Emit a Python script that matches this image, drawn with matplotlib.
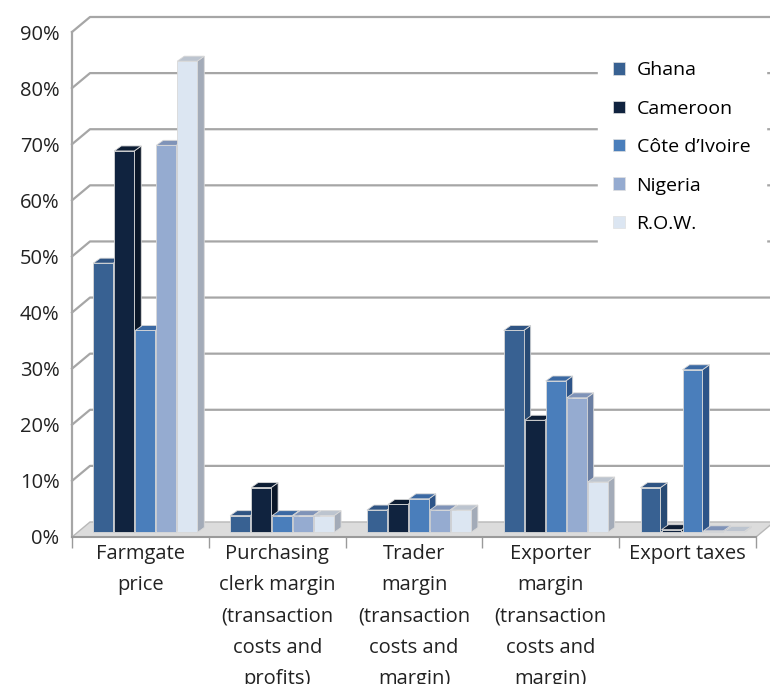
import matplotlib.pyplot as plt
import numpy as np
from matplotlib.patches import Polygon, Patch

plt.rcParams['font.family'] = ['Open Sans', 'DejaVu Sans']

categories = ['Farmgate\nprice',
              'Purchasing\nclerk margin\n(transaction\ncosts and\nprofits)',
              'Trader\nmargin\n(transaction\ncosts and\nmargin)',
              'Exporter\nmargin\n(transaction\ncosts and\nmargin)',
              'Export taxes']
series = ['Ghana', 'Cameroon', "Côte d’Ivoire", 'Nigeria', 'R.O.W.']
ghana = [48, 3, 4, 36, 8]
cameroon = [68, 8, 5, 20, 0.5]
cote_divoire = [36, 3, 6, 27, 29]
nigeria = [69, 3, 4, 24, 0.3]
row = [84, 3, 4, 9, 0.2]
values = [ghana, cameroon, cote_divoire, nigeria, row]
yticks = list(range(0, 100, 10))

front = ['#386192', '#10233f', '#4a7ebb', '#95abd0', '#dce6f2']
side = ['#274a74', '#0a1628', '#2d5488', '#6b7fa3', '#a3abb8']
top = ['#2f5483', '#0d1d34', '#3b69a3', '#7f93b8', '#bcc4cf']

fig = plt.figure(figsize=(7.7, 6.84), dpi=100)
ax = fig.add_axes([72 / 770, 1 - 537 / 684, 684 / 770, 505 / 684])
ax.set_xlim(0, 5)
ax.set_ylim(0, 90)
for s in ax.spines.values():
    s.set_visible(False)

# depth of the "3d" box in data units
DX = 18 / 136.8
DY = 15 / 56.1 * 10
grid_c = '#a6a6a6'

# floor
floor = Polygon([(0, 0), (5, 0), (5 + DX, DY), (DX, DY)], closed=True,
                facecolor='#dcdcdc', edgecolor='#b8b8b8', lw=1, clip_on=False, zorder=1)
ax.add_patch(floor)
ax.plot([0, 5], [0, 0], color='#9a9a9a', lw=1.5, clip_on=False, zorder=1)

# back wall gridlines and side wall
for v in yticks[1:]:
    ax.plot([0, DX, 5 + DX], [v, v + DY, v + DY], color=grid_c, lw=1.6,
            clip_on=False, zorder=0.5)
ax.plot([0, 0], [0, 90], color=grid_c, lw=1.6, clip_on=False, zorder=0.5)

# bars
n = len(series)
step = 0.1535
w = 0.146
margin = (1 - n * step) / 2
fx, fy = 0.3 * DX, 0.3 * DY
bdx, bdy = 7 / 136.8, 5 / 56.1 * 10
for j in range(len(categories)):
    for i in range(n):
        v = values[i][j]
        x0 = j + margin + i * step + fx
        y0 = fy
        sp = Polygon([(x0 + w, y0), (x0 + w + bdx, y0 + bdy), (x0 + w + bdx, y0 + v + bdy),
                      (x0 + w, y0 + v)], closed=True, facecolor=side[i],
                     edgecolor='#d8d8d8', lw=0.6, clip_on=False, zorder=2)
        tp = Polygon([(x0, y0 + v), (x0 + bdx, y0 + v + bdy), (x0 + w + bdx, y0 + v + bdy),
                      (x0 + w, y0 + v)], closed=True, facecolor=top[i],
                     edgecolor='#d8d8d8', lw=0.6, clip_on=False, zorder=2)
        ax.add_patch(sp)
        ax.add_patch(tp)
        ax.bar(x0, v, w, bottom=y0, align='edge', color=front[i],
               edgecolor='#d8d8d8', lw=0.6, zorder=2, clip_on=False)

ax.set_yticks(yticks)
ax.set_yticklabels(['%d%%' % t for t in yticks], fontsize=14.5, color='#222222')
ax.tick_params(axis='y', length=0, pad=9)
ax.set_xticks(np.arange(len(categories)) + 0.5)
ax.set_xticklabels(categories, fontsize=14.5, color='#222222', linespacing=1.75, va='top')
ax.tick_params(axis='x', length=0, pad=5)
ax.set_xticks(np.arange(len(categories) + 1), minor=True)
ax.tick_params(axis='x', which='minor', length=8, color='#9a9a9a', width=1)

handles = [Patch(facecolor=c, edgecolor='#e0e0e0', lw=0.5) for c in front]
leg = ax.legend(handles, series, loc='upper left', bbox_to_anchor=(588 / 770, 1 - 36 / 684),
                bbox_transform=fig.transFigure, frameon=True, facecolor='white',
                edgecolor='white', framealpha=1, fontsize=14, handlelength=0.6,
                handleheight=0.6, labelspacing=1.05, handletextpad=0.6, borderpad=0.8,
                fancybox=False)
leg.set_zorder(5)

fig.savefig('out.png', dpi=100)
